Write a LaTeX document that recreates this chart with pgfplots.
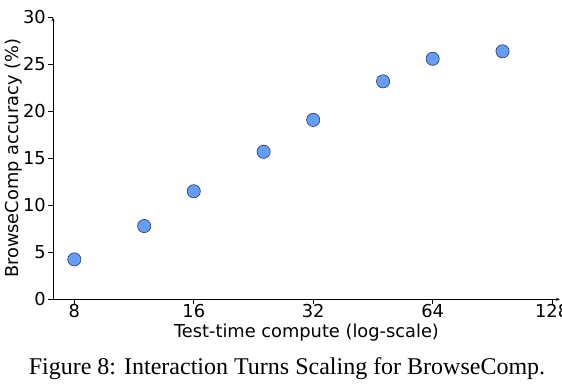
\documentclass[border=0pt]{standalone}
\usepackage{fontspec}
\setmainfont{DejaVu Sans}
\newfontfamily\capfont{Liberation Serif}
\usepackage{pgfplots}
\pgfplotsset{compat=1.18}
\usetikzlibrary{arrows.meta}
\definecolor{ptfill}{RGB}{100,157,250}
\definecolor{ptedge}{RGB}{45,55,85}
\begin{document}
\begin{tikzpicture}
\path[use as bounding box] (0,0) rectangle (562pt,390pt);
\begin{axis}[
  at={(53pt,90.7pt)}, anchor=south west,
  scale only axis,
  width=507pt, height=281.8pt,
  xmode=log, log basis x=2,
  xmin=7.07, xmax=134,
  ymin=0, ymax=30,
  axis lines=left,
  axis line style={line width=0.9pt, -{Stealth[length=4pt,width=3pt]}},
  xtick={8,16,32,64,128},
  xticklabels={8,16,32,64,128},
  ytick={0,5,10,15,20,25,30},
  tick align=outside,
  major tick length=5pt,
  tick style={line width=0.7pt, black},
  /pgf/number format/assume math mode=true,
  tick label style={font=\fontsize{17.8}{21}\selectfont},
  yticklabel style={inner sep=2pt},
  xticklabel style={anchor=base, yshift=-13.4pt},
  label style={font=\fontsize{17.8}{21}\selectfont},
  xlabel={Test-time compute (log-scale)},
  ylabel={BrowseComp accuracy (\%)},
  xlabel style={at={(axis description cs:0.5,-0.1338)}, anchor=base},
  ylabel style={at={(axis description cs:-0.0671,0.5)}, anchor=base},
  clip=false,
]
\addplot[only marks, mark=*, mark size=6.6pt,
  mark options={fill=ptfill, draw=ptedge, line width=0.6pt}]
  coordinates {
  (8,4.25) (12,7.8) (16,11.5) (24,15.7) (32,19.1) (48,23.2) (64,25.6) (96,26.4)
  };
\end{axis}
\node[font=\capfont\fontsize{24}{29}\selectfont, anchor=base] at (287pt,15.3pt) {Figure 8: Interaction Turns Scaling for BrowseComp.};
\end{tikzpicture}
\end{document}
